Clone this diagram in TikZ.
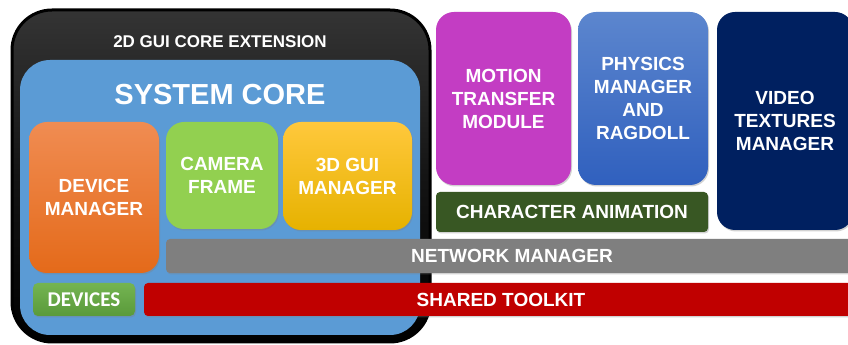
\documentclass[tikz,border=0pt]{standalone}
\usepackage{fontspec}
\setmainfont{Liberation Sans}
\newfontfamily\calfont{Carlito}
\usetikzlibrary{shadows}
\tikzset{
  box/.style={rounded corners=#1, inner sep=0pt, text=white, align=center,
    font=\bfseries\fontsize{19}{23}\selectfont,
    drop shadow={opacity=0.35, shadow xshift=1pt, shadow yshift=-1.5pt}},
  box/.default=18pt,
  bar/.style={rounded corners=4pt, inner sep=0pt, text=white, align=center,
    font=\bfseries\fontsize{19}{23}\selectfont,
    drop shadow={opacity=0.35, shadow xshift=1pt, shadow yshift=-1.5pt}},
}
\begin{document}
\begin{tikzpicture}[x=1pt,y=1pt]
\clip (0,0) rectangle (848,345);
\fill[white] (0,0) rectangle (848,345);
% outer 2D GUI core extension
\node[rounded corners=40pt, minimum width=418pt, minimum height=332pt, inner sep=0pt,
  top color={rgb,255:red,52;green,52;blue,52}, bottom color=black, middle color={rgb,255:red,20;green,20;blue,20},
  draw=black, line width=3pt] (ext) at (221,169) {};
\node[text=white, font=\bfseries\fontsize{17}{20}\selectfont] (exttitle) at (220,303) {2D GUI CORE EXTENSION};
% system core
\node[rounded corners=30pt, minimum width=400pt, minimum height=275pt, inner sep=0pt,
  fill={rgb,255:red,91;green,155;blue,213}] (core) at (220,147.5) {};
\node[text=white, font=\bfseries\fontsize{29}{32}\selectfont] (coretitle) at (220,250) {SYSTEM CORE};
% inner boxes
\node[box, minimum width=130pt, minimum height=151pt,
  top color={rgb,255:red,240;green,140;blue,82}, bottom color={rgb,255:red,228;green,106;blue,26}]
  (dev) at (94,147.5) {DEVICE\\MANAGER};
\node[box, minimum width=112pt, minimum height=107pt,
  fill={rgb,255:red,146;green,208;blue,80}]
  (cam) at (222,169.5) {CAMERA\\FRAME};
\node[box, minimum width=129pt, minimum height=108pt,
  top color={rgb,255:red,255;green,200;blue,60}, bottom color={rgb,255:red,230;green,178;blue,0}]
  (gui3d) at (347.5,169) {3D GUI\\MANAGER};
\node[rounded corners=5pt, minimum width=102pt, minimum height=33pt, inner sep=0pt, text=white,
  font=\calfont\bfseries\fontsize{21}{24}\selectfont,
  top color={rgb,255:red,116;green,180;blue,82}, bottom color={rgb,255:red,90;green,154;blue,58},
  drop shadow={opacity=0.35, shadow xshift=1pt, shadow yshift=-1.5pt}]
  (devices) at (84,45.5) {DEVICES};
% right modules
\node[box, minimum width=135pt, minimum height=173pt,
  fill={rgb,255:red,195;green,61;blue,195}]
  (motion) at (503.5,246.5) {MOTION\\TRANSFER\\MODULE};
\node[box, minimum width=130pt, minimum height=173pt,
  top color={rgb,255:red,92;green,134;blue,206}, bottom color={rgb,255:red,48;green,96;blue,190}]
  (phys) at (643,246.5) {PHYSICS\\MANAGER\\AND\\RAGDOLL};
\node[box, minimum width=136pt, minimum height=218pt,
  fill={rgb,255:red,0;green,32;blue,96}]
  (video) at (785,224) {VIDEO\\TEXTURES\\MANAGER};
\node[bar, minimum width=272pt, minimum height=40pt,
  fill={rgb,255:red,56;green,87;blue,35}]
  (charanim) at (572,133) {CHARACTER ANIMATION};
% bars
\node[bar, minimum width=692pt, minimum height=34pt,
  fill={rgb,255:red,127;green,127;blue,127}]
  (net) at (512,89) {NETWORK MANAGER};
\node[bar, minimum width=714pt, minimum height=33pt,
  fill={rgb,255:red,192;green,0;blue,0}]
  (shared) at (501,45.5) {SHARED TOOLKIT};
\end{tikzpicture}
\end{document}
